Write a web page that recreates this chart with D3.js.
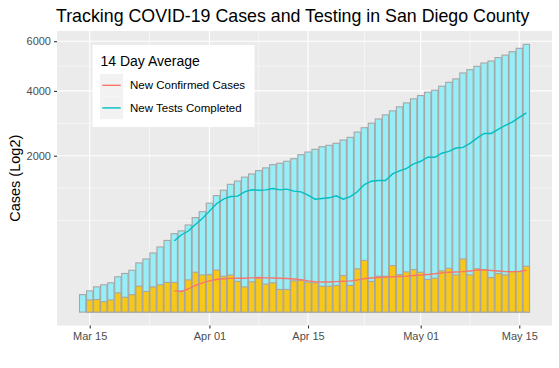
<!DOCTYPE html>
<html lang="en">
<head>
    <meta charset="UTF-8">
    <title>Tracking COVID-19 Cases and Testing in San Diego County</title>
    <script src="https://cdn.jsdelivr.net/npm/d3@7"></script>
    <style>
        body { margin: 0; background: #ffffff; }
        text { font-family: "Liberation Sans", Arial, Helvetica, sans-serif; }
    </style>
</head>
<body>

<div id="chart"></div>

<script>

    // ---- data ----

    const firstDay = '2020-03-14';

    // cumulative confirmed cases (cyan bars)
    const totalCases = [
        25, 37, 52, 61, 70, 102, 122, 143, 198, 231, 286, 347, 420, 503, 540, 620,
        730, 825, 970, 1110, 1215, 1335, 1404, 1490, 1560, 1637, 1700, 1778, 1812, 1860, 1925, 2026,
        2096, 2167, 2237, 2275, 2330, 2421, 2497, 2650, 2780, 2920, 3050, 3180, 3310, 3445, 3579, 3718,
        3835, 3953, 4025, 4170, 4320, 4445, 4675, 4805, 4940, 5073, 5155, 5295, 5400, 5546, 5690, 5860
    ];

    // daily new confirmed cases (yellow bars)
    const newCases = [
        0, 12, 13, 9, 12, 30, 18, 25, 55, 35, 52, 61, 72, 72, 36, 85,
        130, 113, 115, 145, 105, 112, 77, 52, 75, 94, 64, 70, 42, 42, 80, 83,
        73, 70, 55, 55, 58, 109, 58, 153, 219, 77, 105, 105, 177, 115, 132, 148,
        130, 87, 94, 139, 157, 113, 231, 113, 153, 148, 98, 121, 113, 134, 134, 172
    ];

    // 14 day averages (start on Mar 27)
    const avgCases = [
        null, null, null, null, null, null, null, null, null, null, null, null, null, 37, 35, 44,
        58, 70, 80, 87, 91, 93, 94, 94, 96, 98, 96, 95, 94, 92, 90, 86,
        80, 76, 74, 74, 76, 78, 80, 84, 92, 95, 98, 100, 102, 104, 106, 110,
        113, 116, 120, 126, 130, 132, 134, 138, 145, 146, 142, 138, 134, 134, 136, 143
    ];

    const avgTests = [
        null, null, null, null, null, null, null, null, null, null, null, null, null, 413, 486, 538,
        628, 717, 834, 960, 1043, 1092, 1100, 1183, 1225, 1215, 1222, 1248, 1222, 1236, 1196, 1183,
        1118, 1043, 1055, 1068, 1105, 1043, 1092, 1183, 1330, 1401, 1415, 1415, 1562, 1630, 1690, 1795,
        1860, 1961, 1961, 2063, 2113, 2201, 2220, 2329, 2476, 2610, 2610, 2730, 2850, 2951, 3100, 3247
    ];

    const yBreaks = [2000, 4000, 6000];
    const xBreaks = ['2020-03-15', '2020-04-01', '2020-04-15', '2020-05-01', '2020-05-15'];

    const legendLabels = ['New Confirmed Cases', 'New Tests Completed'];

    // ---- layout ----

    const width = 559;
    const height = 368;
    const margin = { top: 31, right: 7, bottom: 42.5, left: 57 };

    const panelLeft = margin.left;
    const panelRight = width - margin.right;
    const panelTop = margin.top;
    const panelBottom = height - margin.bottom;

    const caseFill = '#F7C818';
    const testFill = '#98EEF6';
    const barStroke = '#A6A6A6';
    const caseLine = '#F8766D';
    const testLine = '#00BFC4';

    const parseDay = d3.utcParse('%Y-%m-%d');
    const start = parseDay(firstDay);
    const days = totalCases.map((d, i) => d3.utcDay.offset(start, i));
    const dayMs = 864e5;

    const rows = days.map((date, i) => ({
        date: date,
        total: totalCases[i],
        cases: newCases[i],
        avgCases: avgCases[i],
        avgTests: avgTests[i]
    }));

    // ---- scales (ggplot style 5% expansion) ----

    const span = (days[days.length - 1] - days[0]) / dayMs + 0.9;
    const xPad = span * 0.05 + 0.45;

    const x = d3.scaleUtc()
        .domain([new Date(+days[0] - xPad * dayMs), new Date(+days[days.length - 1] + xPad * dayMs)])
        .range([panelLeft, panelRight]);

    const sTop = Math.sqrt(d3.max(totalCases));
    const sPad = sTop * 0.05;

    const y = d3.scaleSqrt()
        .domain([-(sPad * sPad), (sTop + sPad) * (sTop + sPad)])
        .range([panelBottom, panelTop]);

    const barWidth = (x(days[1]) - x(days[0])) * 0.9;

    // minor breaks computed in sqrt space like ggplot does
    const sb = yBreaks.map(Math.sqrt);
    const sStep = sb[1] - sb[0];
    const sExt = [sb[0] - sStep, ...sb, sb[sb.length - 1] + sStep];
    const yMinor = [sExt[0]];
    for (let i = 0; i < sExt.length - 1; i++) {
        yMinor.push((sExt[i] + sExt[i + 1]) / 2);
    }
    const yMinorValues = yMinor
        .filter(v => v >= 0 && v <= sTop + sPad)
        .map(v => v * v);

    const xMajor = xBreaks.map(parseDay);
    const xMinor = [];
    for (let i = 0; i < xMajor.length - 1; i++) {
        xMinor.push(new Date((+xMajor[i] + +xMajor[i + 1]) / 2));
    }

    // ---- drawing ----

    const svg = d3.select('#chart')
        .append('svg')
        .attr('width', width)
        .attr('height', height);

    svg.append('rect')
        .attr('x', panelLeft)
        .attr('y', panelTop)
        .attr('width', panelRight - panelLeft)
        .attr('height', panelBottom - panelTop)
        .attr('fill', '#EBEBEB');

    const grid = svg.append('g');

    grid.selectAll('.y-minor')
        .data(yMinorValues)
        .enter()
        .append('line')
        .attr('x1', panelLeft)
        .attr('x2', panelRight)
        .attr('y1', d => y(d))
        .attr('y2', d => y(d))
        .attr('stroke', '#ffffff')
        .attr('stroke-width', 0.55);

    grid.selectAll('.x-minor')
        .data(xMinor)
        .enter()
        .append('line')
        .attr('x1', d => x(d))
        .attr('x2', d => x(d))
        .attr('y1', panelTop)
        .attr('y2', panelBottom)
        .attr('stroke', '#ffffff')
        .attr('stroke-width', 0.55);

    grid.selectAll('.y-major')
        .data(yBreaks)
        .enter()
        .append('line')
        .attr('x1', panelLeft)
        .attr('x2', panelRight)
        .attr('y1', d => y(d))
        .attr('y2', d => y(d))
        .attr('stroke', '#ffffff')
        .attr('stroke-width', 1.1);

    grid.selectAll('.x-major')
        .data(xMajor)
        .enter()
        .append('line')
        .attr('x1', d => x(d))
        .attr('x2', d => x(d))
        .attr('y1', panelTop)
        .attr('y2', panelBottom)
        .attr('stroke', '#ffffff')
        .attr('stroke-width', 1.1);

    // bars: cumulative behind, daily new in front
    svg.append('g')
        .selectAll('rect')
        .data(rows)
        .enter()
        .append('rect')
        .attr('x', d => x(d.date) - barWidth / 2)
        .attr('y', d => y(d.total))
        .attr('width', barWidth)
        .attr('height', d => y(0) - y(d.total))
        .attr('fill', testFill)
        .attr('stroke', barStroke)
        .attr('stroke-width', 1.1);

    svg.append('g')
        .selectAll('rect')
        .data(rows.filter(d => d.cases > 0))
        .enter()
        .append('rect')
        .attr('x', d => x(d.date) - barWidth / 2)
        .attr('y', d => y(d.cases))
        .attr('width', barWidth)
        .attr('height', d => y(0) - y(d.cases))
        .attr('fill', caseFill)
        .attr('stroke', barStroke)
        .attr('stroke-width', 1.1);

    const caseLineGen = d3.line()
        .defined(d => d.avgCases != null)
        .x(d => x(d.date))
        .y(d => y(d.avgCases));

    const testLineGen = d3.line()
        .defined(d => d.avgTests != null)
        .x(d => x(d.date))
        .y(d => y(d.avgTests));

    svg.append('path')
        .datum(rows)
        .attr('d', caseLineGen)
        .attr('fill', 'none')
        .attr('stroke', caseLine)
        .attr('stroke-width', 1.4);

    svg.append('path')
        .datum(rows)
        .attr('d', testLineGen)
        .attr('fill', 'none')
        .attr('stroke', testLine)
        .attr('stroke-width', 1.4);

    // ---- axes ----

    const yAxis = d3.axisLeft(y)
        .tickValues(yBreaks)
        .tickSize(3)
        .tickPadding(3)
        .tickFormat(d3.format('d'));

    const gy = svg.append('g')
        .attr('transform', `translate(${panelLeft},0)`)
        .call(yAxis);

    const xAxis = d3.axisBottom(x)
        .tickValues(xMajor)
        .tickSize(3)
        .tickPadding(4)
        .tickFormat(d3.utcFormat('%b %d'));

    const gx = svg.append('g')
        .attr('transform', `translate(0,${panelBottom})`)
        .call(xAxis);

    [gx, gy].forEach(g => {
        g.select('.domain').remove();
        g.selectAll('.tick line').attr('stroke', '#333333').attr('stroke-width', 1.1);
        g.selectAll('.tick text')
            .attr('fill', '#4D4D4D')
            .style('font-size', '11px');
    });

    svg.append('text')
        .attr('transform', `translate(20,${(panelTop + panelBottom) / 2}) rotate(-90)`)
        .attr('text-anchor', 'middle')
        .style('font-size', '14.5px')
        .attr('fill', '#000000')
        .text('Cases (Log2)');

    svg.append('text')
        .attr('x', panelLeft - 1)
        .attr('y', 22)
        .style('font-size', '17.8px')
        .attr('fill', '#000000')
        .text('Tracking COVID-19 Cases and Testing in San Diego County');

    // ---- legend ----

    const legend = svg.append('g')
        .attr('transform', 'translate(92.5,45)');

    legend.append('rect')
        .attr('width', 162)
        .attr('height', 82)
        .attr('fill', '#ffffff');

    legend.append('text')
        .attr('x', 8)
        .attr('y', 21)
        .style('font-size', '14px')
        .text('14 Day Average');

    const keys = legend.selectAll('.key')
        .data(legendLabels)
        .enter()
        .append('g')
        .attr('transform', (d, i) => `translate(7.5,${29 + i * 22.6})`);

    keys.append('rect')
        .attr('width', 23)
        .attr('height', 22.6)
        .attr('fill', '#F2F2F2');

    keys.append('line')
        .attr('x1', 2.3)
        .attr('x2', 20.7)
        .attr('y1', 11.3)
        .attr('y2', 11.3)
        .attr('stroke', (d, i) => i === 0 ? caseLine : testLine)
        .attr('stroke-width', 1.4);

    keys.append('text')
        .attr('x', 30)
        .attr('y', 15.3)
        .style('font-size', '11.5px')
        .text(d => d);

</script>

</body>
</html>
